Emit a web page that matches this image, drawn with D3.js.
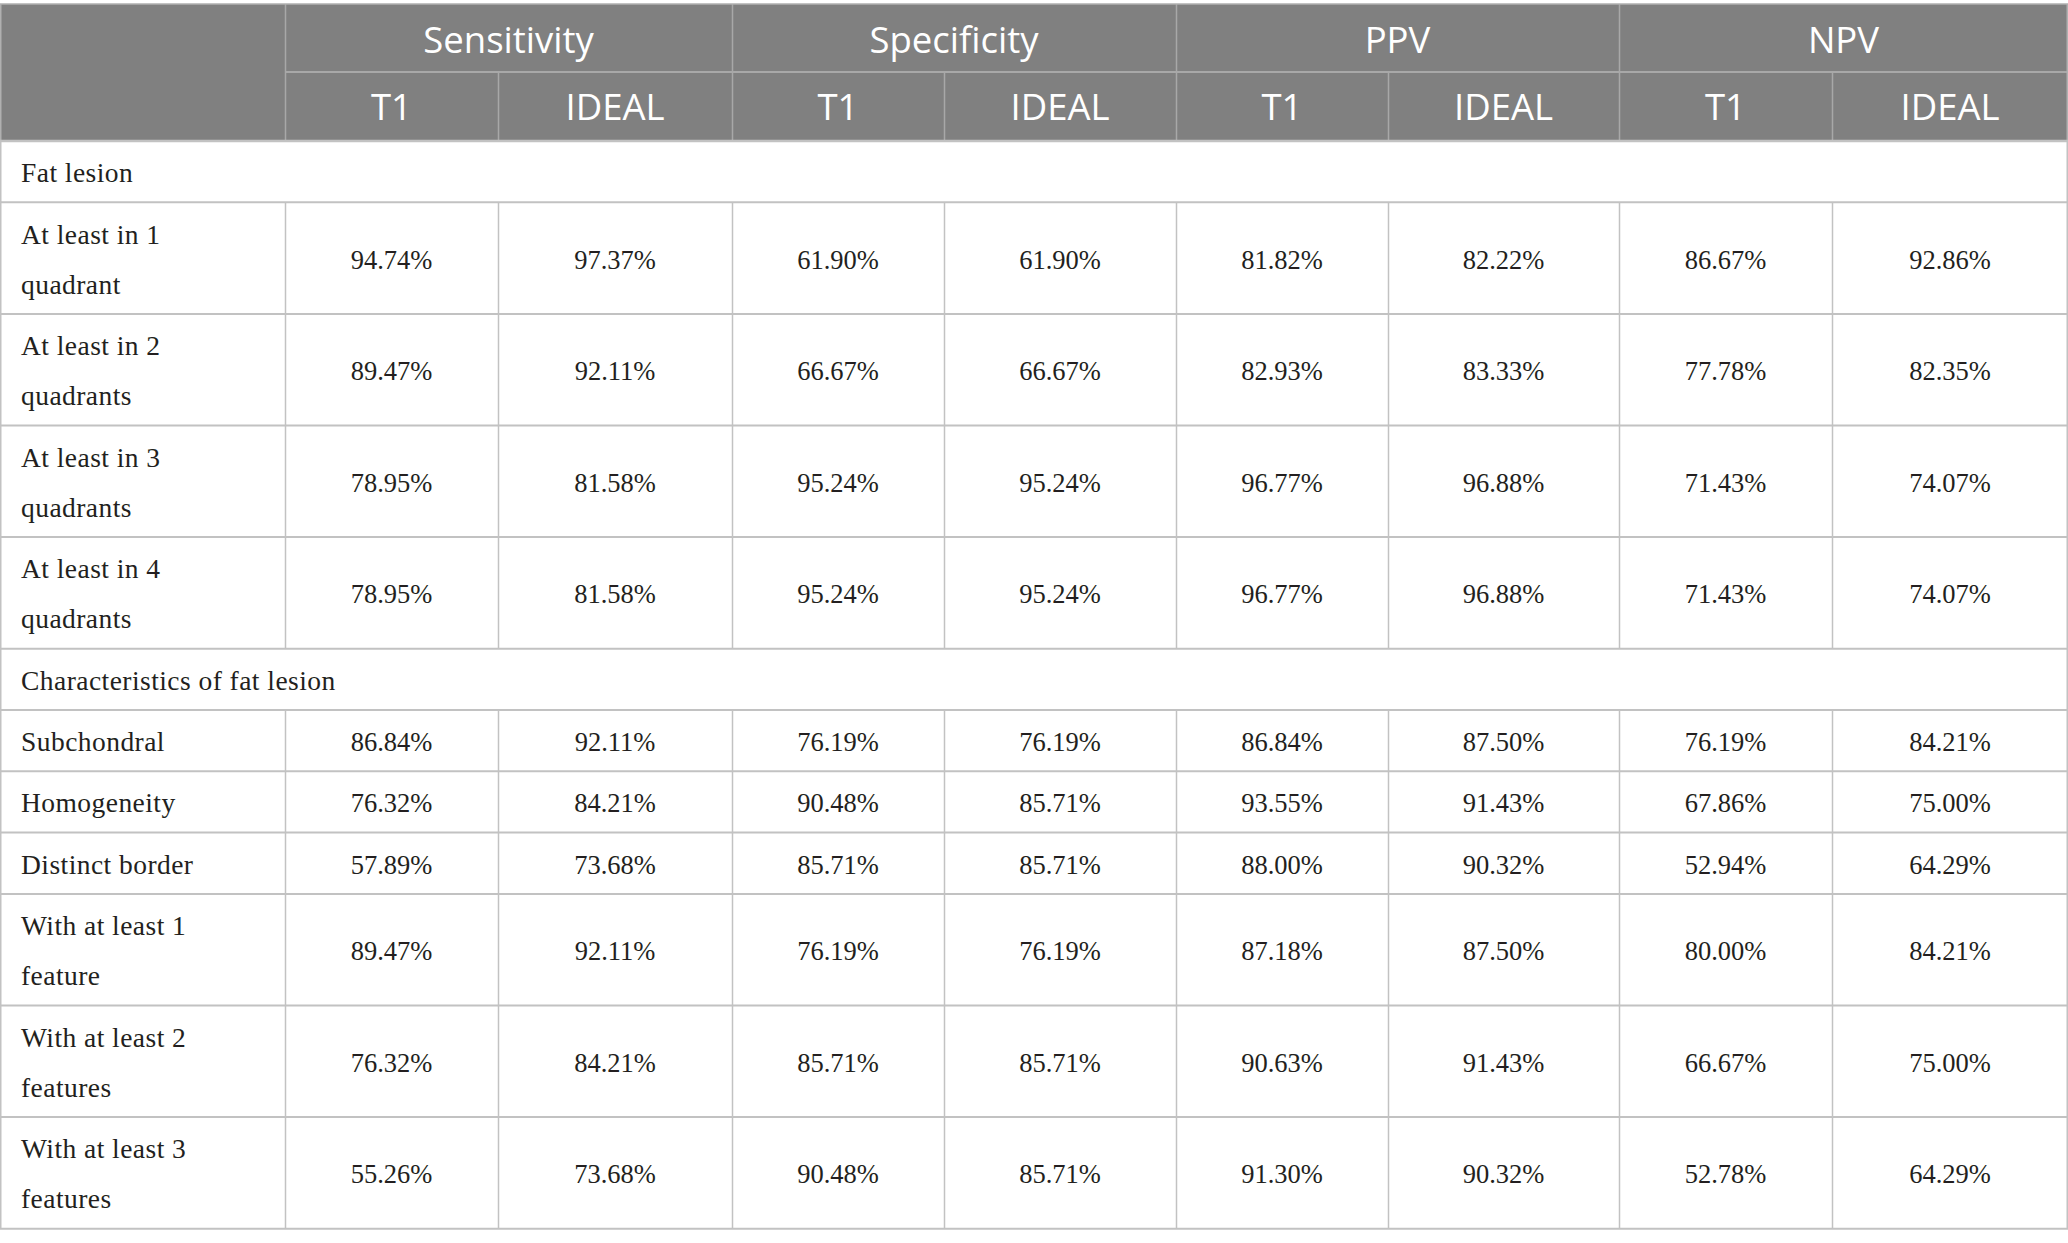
<!DOCTYPE html>
<html>
<head>
<meta charset="utf-8">
<script src="https://cdn.jsdelivr.net/npm/d3@7/dist/d3.min.js"></script>
<style>
  html, body { margin: 0; padding: 0; background: #ffffff; }
  svg { display: block; }
</style>
</head>
<body>
<div id="chart"></div>
<script>
// ---------------- DATA ----------------
const metrics = ["Sensitivity", "Specificity", "PPV", "NPV"];
const sequences = ["T1", "IDEAL"];

const section1 = "Fat lesion";
const section1Rows = [
  "At least in 1\nquadrant",
  "At least in 2\nquadrants",
  "At least in 3\nquadrants",
  "At least in 4\nquadrants"
];
const section1Values = [
  [94.74, 97.37, 61.90, 61.90, 81.82, 82.22, 86.67, 92.86],
  [89.47, 92.11, 66.67, 66.67, 82.93, 83.33, 77.78, 82.35],
  [78.95, 81.58, 95.24, 95.24, 96.77, 96.88, 71.43, 74.07],
  [78.95, 81.58, 95.24, 95.24, 96.77, 96.88, 71.43, 74.07]
];

const section2 = "Characteristics of fat lesion";
const section2Rows = [
  "Subchondral",
  "Homogeneity",
  "Distinct border",
  "With at least 1\nfeature",
  "With at least 2\nfeatures",
  "With at least 3\nfeatures"
];
const section2Values = [
  [86.84, 92.11, 76.19, 76.19, 86.84, 87.50, 76.19, 84.21],
  [76.32, 84.21, 90.48, 85.71, 93.55, 91.43, 67.86, 75.00],
  [57.89, 73.68, 85.71, 85.71, 88.00, 90.32, 52.94, 64.29],
  [89.47, 92.11, 76.19, 76.19, 87.18, 87.50, 80.00, 84.21],
  [76.32, 84.21, 85.71, 85.71, 90.63, 91.43, 66.67, 75.00],
  [55.26, 73.68, 90.48, 85.71, 91.30, 90.32, 52.78, 64.29]
];

// ---------------- LAYOUT ----------------
const W = 2068, H = 1243;
const colWidths = [285, 213, 234, 212, 232, 212, 231, 213, 236];
const tableTop = 4;
const headH1 = 68, headH2 = 69;
const singleH = 61.3, doubleH = 111.6;
const lineGap = 50;

const headerFill = "#808080";
const headerLine = "#a8a8a8";
const gridLine = "#c2c2c2";
const bodyText = "#231f20";
const sansFont = "'Open Sans', 'Noto Sans', sans-serif";
const serifFont = "'Liberation Serif', 'DejaVu Serif', serif";

const colKeys = d3.range(colWidths.length);
const colEdges = d3.cumsum([0].concat(colWidths));
const xLeft = d3.scaleOrdinal().domain(colKeys).range(Array.from(colEdges).slice(0, -1));
const xWidth = d3.scaleOrdinal().domain(colKeys).range(colWidths);
const xMid = i => xLeft(i) + xWidth(i) / 2;

const rows = [];
rows.push({ type: "section", label: section1 });
section1Rows.forEach((l, i) => rows.push({ type: "data", label: l, values: section1Values[i] }));
rows.push({ type: "section", label: section2 });
section2Rows.forEach((l, i) => rows.push({ type: "data", label: l, values: section2Values[i] }));
rows.forEach(r => { r.lines = r.label.split("\n"); r.h = r.lines.length > 1 ? doubleH : singleH; });
let yCursor = tableTop + headH1 + headH2;
rows.forEach(r => { r.y0 = yCursor; yCursor += r.h; r.y1 = yCursor; });
const bodyTop = tableTop + headH1 + headH2;
const tableBottom = yCursor;

// ---------------- DRAW ----------------
const svg = d3.select("#chart").append("svg")
  .attr("width", W).attr("height", H)
  .attr("viewBox", `0 0 ${W} ${H}`);

svg.append("rect").attr("width", W).attr("height", H).attr("fill", "#ffffff");

svg.append("rect")
  .attr("x", 0).attr("y", tableTop)
  .attr("width", W).attr("height", headH1 + headH2)
  .attr("fill", headerFill);

const hg = svg.append("g").attr("class", "header");

const groupStarts = metrics.map((m, i) => 1 + i * sequences.length);
hg.selectAll("line.gsep").data(groupStarts).join("line")
  .attr("class", "gsep")
  .attr("x1", d => xLeft(d) + 0.5).attr("x2", d => xLeft(d) + 0.5)
  .attr("y1", tableTop).attr("y2", tableTop + headH1 + headH2)
  .attr("stroke", headerLine).attr("stroke-width", 1.5);

hg.append("line")
  .attr("x1", xLeft(1)).attr("x2", W)
  .attr("y1", tableTop + headH1).attr("y2", tableTop + headH1)
  .attr("stroke", headerLine).attr("stroke-width", 2);

const subCols = d3.range(1, colWidths.length);
hg.selectAll("line.ssep").data(subCols.filter(c => !groupStarts.includes(c))).join("line")
  .attr("class", "ssep")
  .attr("x1", d => xLeft(d) + 0.5).attr("x2", d => xLeft(d) + 0.5)
  .attr("y1", tableTop + headH1).attr("y2", tableTop + headH1 + headH2)
  .attr("stroke", headerLine).attr("stroke-width", 1.5);

hg.selectAll("text.metric").data(metrics).join("text")
  .attr("class", "metric")
  .attr("x", (d, i) => {
    const a = groupStarts[i], b = a + sequences.length - 1;
    return (xLeft(a) + xLeft(b) + xWidth(b)) / 2;
  })
  .attr("y", tableTop + 49)
  .attr("text-anchor", "middle")
  .attr("font-family", sansFont).attr("font-size", 36.5)
  .attr("fill", "#ffffff")
  .text(d => d);

hg.selectAll("text.seq").data(subCols).join("text")
  .attr("class", "seq")
  .attr("x", d => xMid(d))
  .attr("y", tableTop + headH1 + 48)
  .attr("text-anchor", "middle")
  .attr("font-family", sansFont).attr("font-size", 36.5)
  .attr("fill", "#ffffff")
  .text(d => sequences[(d - 1) % sequences.length]);

const bg = svg.append("g").attr("class", "body");

bg.selectAll("line.hrow").data(rows).join("line")
  .attr("class", "hrow")
  .attr("x1", 0).attr("x2", W)
  .attr("y1", d => d.y1).attr("y2", d => d.y1)
  .attr("stroke", gridLine).attr("stroke-width", 2);

const dataRows = rows.filter(r => r.type === "data");
dataRows.forEach(r => {
  bg.append("g").selectAll("line").data(subCols).join("line")
    .attr("x1", d => xLeft(d) + 0.5).attr("x2", d => xLeft(d) + 0.5)
    .attr("y1", r.y0).attr("y2", r.y1)
    .attr("stroke", gridLine).attr("stroke-width", 1.5);
});

bg.append("line").attr("x1", 0.75).attr("x2", 0.75)
  .attr("y1", bodyTop).attr("y2", tableBottom)
  .attr("stroke", gridLine).attr("stroke-width", 1.5);
bg.append("line").attr("x1", W - 0.75).attr("x2", W - 0.75)
  .attr("y1", bodyTop).attr("y2", tableBottom)
  .attr("stroke", gridLine).attr("stroke-width", 1.5);
svg.append("rect")
  .attr("x", 0.75).attr("y", tableTop)
  .attr("width", W - 1.5).attr("height", headH1 + headH2)
  .attr("fill", "none").attr("stroke", "#b0b0b0").attr("stroke-width", 1.5);
svg.append("line").attr("x1", 0).attr("x2", W)
  .attr("y1", bodyTop).attr("y2", bodyTop)
  .attr("stroke", gridLine).attr("stroke-width", 2.5);

rows.forEach(r => {
  const mid = (r.y0 + r.y1) / 2;
  const n = r.lines.length;
  bg.append("g").selectAll("text").data(r.lines).join("text")
    .attr("x", 21)
    .attr("y", (d, i) => mid + 10.5 + (i - (n - 1) / 2) * lineGap)
    .attr("font-family", serifFont).attr("font-size", 27.5)
    .attr("letter-spacing", 0.45)
    .attr("fill", bodyText)
    .text(d => d);
  if (r.type === "data") {
    bg.append("g").selectAll("text").data(r.values).join("text")
      .attr("x", (d, i) => xMid(i + 1))
      .attr("y", mid + 10.5)
      .attr("text-anchor", "middle")
      .attr("font-family", serifFont).attr("font-size", 26.5)
      .attr("fill", bodyText)
      .text(d => d3.format(".2f")(d) + "%");
  }
});
</script>
</body>
</html>
